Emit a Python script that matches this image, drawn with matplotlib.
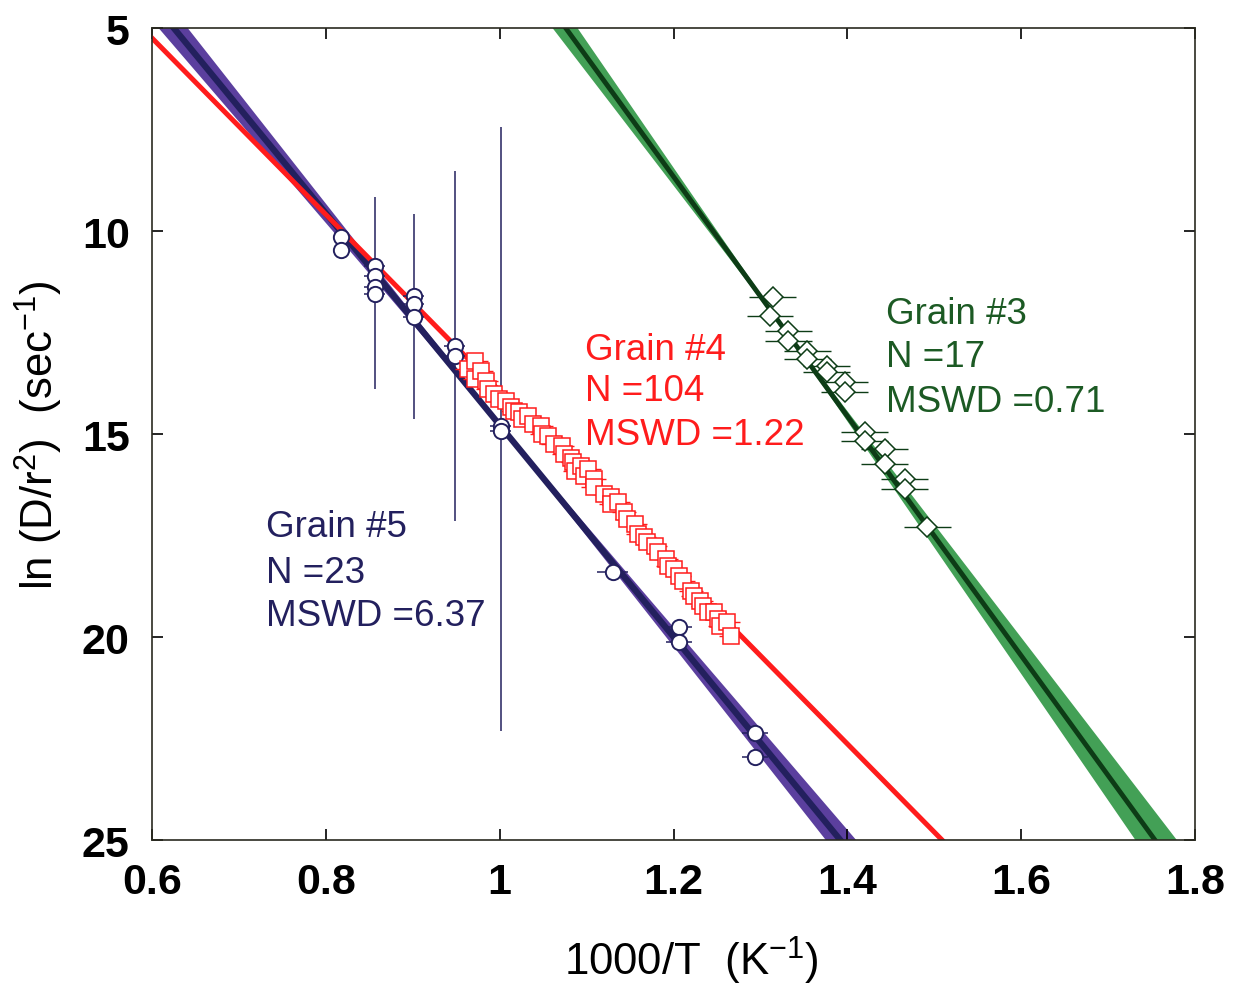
import numpy as np
import matplotlib
matplotlib.use("Agg")
import matplotlib.pyplot as plt

plt.rcParams['font.family'] = ['Liberation Sans', 'DejaVu Sans']
plt.rcParams['mathtext.fontset'] = 'custom'
plt.rcParams['mathtext.rm'] = 'Liberation Sans'
plt.rcParams['mathtext.it'] = 'Liberation Sans:italic'
plt.rcParams['mathtext.bf'] = 'Liberation Sans:bold'

# ---------------- data ----------------
# Grain #5 (circles)
g5_x = [0.817, 0.817, 0.856, 0.856, 0.856, 0.856, 0.901, 0.901, 0.901,
        0.948, 0.948, 1.001, 1.001, 1.130, 1.206, 1.206, 1.294, 1.294]
g5_y = [10.15, 10.47, 10.86, 11.11, 11.38, 11.55, 11.60, 11.80, 12.12,
        12.83, 13.08, 14.80, 14.93, 18.40, 19.75, 20.12, 22.36, 22.96]
# long vertical error bars of grain #5 (x, low, high)
g5_bar_x = [0.856, 0.901, 0.948, 1.001]
g5_bar_lo = [9.16, 9.58, 8.52, 7.44]
g5_bar_hi = [13.89, 14.63, 17.14, 22.32]
g5_xerr = [0.005, 0.005, 0.012, 0.012, 0.012, 0.012, 0.012, 0.012, 0.012,
           0.012, 0.012, 0.012, 0.012, 0.018, 0.015, 0.015, 0.015, 0.015]

# Grain #4 (squares)
g4_x = [0.963, 0.972, 0.972, 0.978, 0.984, 0.987, 0.993, 0.999, 1.007, 1.013,
        1.016, 1.022, 1.026, 1.032, 1.038, 1.047, 1.049, 1.056, 1.062, 1.072,
        1.074, 1.082, 1.084, 1.087, 1.093, 1.097, 1.102, 1.108, 1.108, 1.120,
        1.128, 1.128, 1.136, 1.143, 1.147, 1.156, 1.159, 1.166, 1.170, 1.179,
        1.182, 1.191, 1.194, 1.200, 1.206, 1.211, 1.220, 1.223, 1.231, 1.234,
        1.240, 1.246, 1.251, 1.254, 1.262, 1.266]
g4_y = [13.40, 13.20, 13.65, 13.45, 13.69, 13.89, 14.01, 14.14, 14.19, 14.33,
        14.43, 14.46, 14.63, 14.56, 14.75, 14.80, 15.00, 15.05, 15.25, 15.30,
        15.49, 15.60, 15.69, 15.91, 15.79, 16.03, 15.86, 16.11, 16.31, 16.48,
        16.55, 16.72, 16.67, 16.92, 17.09, 17.22, 17.46, 17.54, 17.66, 17.76,
        17.91, 18.08, 18.25, 18.33, 18.50, 18.62, 18.87, 18.99, 19.11, 19.24,
        19.38, 19.38, 19.56, 19.73, 19.63, 19.98]
g4_xerr = 0.014

# Grain #3 (diamonds)
g3_x = [1.314, 1.311, 1.332, 1.332, 1.354, 1.354, 1.376, 1.376, 1.397,
        1.397, 1.420, 1.420, 1.443, 1.443, 1.466, 1.466, 1.492]
g3_y = [11.63, 12.09, 12.46, 12.71, 12.96, 13.15, 13.33, 13.47, 13.72,
        13.97, 14.95, 15.17, 15.37, 15.74, 16.11, 16.35, 17.29]
g3_xerr = 0.027

# Arrhenius fits: ln(D/r2) = intercept + slope * (1000/T)
fit5 = dict(intercept=-11.30, slope=26.08, xc=1.00, s0=0.06, sb=1.15)
fit4 = dict(intercept=-7.79, slope=21.73)
fit3 = dict(intercept=-26.74, slope=29.50, xc=1.33, s0=0.05, sb=1.65)

labels5 = ["Grain #5", "N =23", "MSWD =6.37"]
labels4 = ["Grain #4", "N =104", "MSWD =1.22"]
labels3 = ["Grain #3", "N =17", "MSWD =0.71"]

x_ticks = [0.6, 0.8, 1.0, 1.2, 1.4, 1.6, 1.8]
x_tick_labels = ["0.6", "0.8", "1", "1.2", "1.4", "1.6", "1.8"]
y_ticks = [5, 10, 15, 20, 25]

# ---------------- colours ----------------
navy = '#23205e'
purple = '#5b3f9e'
red = '#ff1c1c'
green_band = '#43a056'
green_dark = '#0d3c16'
green_txt = '#1c5a24'

fig = plt.figure(figsize=(12.38, 9.87), dpi=100)
ax = fig.add_axes([0.1228, 0.1479, 0.8425, 0.8227])

xx = np.linspace(0.55, 1.85, 400)

def band(f):
    yc = f['intercept'] + f['slope'] * xx
    hw = np.sqrt(f['s0'] ** 2 + (f['sb'] * (xx - f['xc'])) ** 2)
    return yc, hw

# Grain #3 band + line
yc3, hw3 = band(fit3)
ax.fill_between(xx, yc3 - hw3, yc3 + hw3, color=green_band, lw=0, zorder=1)
ax.plot(xx, yc3, color=green_dark, lw=3.5, zorder=2)

# Grain #5 band + line
yc5, hw5 = band(fit5)
ax.fill_between(xx, yc5 - hw5, yc5 + hw5, color=purple, lw=0, zorder=1)
ax.plot(xx, yc5, color=navy, lw=4.5, zorder=2)

# Grain #4 line
ax.plot(xx, fit4['intercept'] + fit4['slope'] * xx, color=red, lw=3.6, zorder=2)

# Grain #5 long error bars
ax.vlines(g5_bar_x, g5_bar_lo, g5_bar_hi, color=navy, lw=1.1, zorder=3)
# Grain #5 points
ax.errorbar(g5_x, g5_y, xerr=g5_xerr, fmt='none', ecolor=navy, elinewidth=1.1, zorder=3)
ax.plot(g5_x, g5_y, 'o', ms=11, mfc='white', mec=navy, mew=1.4, zorder=4)

# Grain #4 points
ax.errorbar(g4_x, g4_y, xerr=g4_xerr, fmt='none', ecolor=red, elinewidth=1.0, zorder=3)
ax.plot(g4_x, g4_y, 's', ms=11, mfc='white', mec=red, mew=1.1, zorder=4)

# Grain #3 points
ax.errorbar(g3_x, g3_y, xerr=g3_xerr, fmt='none', ecolor=green_dark, elinewidth=1.0, zorder=3)
ax.plot(g3_x, g3_y, 'D', ms=10.5, mfc='white', mec=green_dark, mew=1.1, zorder=4)

# labels
fs = 26.5
for t, yy in zip(labels5, [17.29, 18.40, 19.48]):
    ax.text(0.731, yy, t, color=navy, fontsize=fs, va='center', ha='left')
for t, yy in zip(labels4, [12.91, 13.94, 15.02]):
    ax.text(1.098, yy, t, color=red, fontsize=fs, va='center', ha='left')
for t, yy in zip(labels3, [12.04, 13.10, 14.21]):
    ax.text(1.445, yy, t, color=green_txt, fontsize=fs, va='center', ha='left')

ax.set_xlim(0.6, 1.8)
ax.set_ylim(25, 5)
ax.set_xticks(x_ticks)
ax.set_xticklabels(x_tick_labels)
ax.set_yticks(y_ticks)
ax.tick_params(direction='in', length=8, width=1.2, top=True, right=True,
               labelsize=31)
ax.tick_params(axis='x', pad=16)
ax.tick_params(axis='y', pad=16)
for lab in ax.get_xticklabels() + ax.get_yticklabels():
    lab.set_fontweight('bold')
for s in ax.spines.values():
    s.set_linewidth(1.2)
    s.set_color('#2a2a20')

ax.set_xlabel('1000/T  (K$^{-1}$)', fontsize=31.5)
ax.xaxis.set_label_coords(0.517, -0.115)
ax.set_ylabel('ln (D/r$^2$)  (sec$^{-1}$)', fontsize=31.5, labelpad=12)

fig.savefig('out.png', dpi=100)
